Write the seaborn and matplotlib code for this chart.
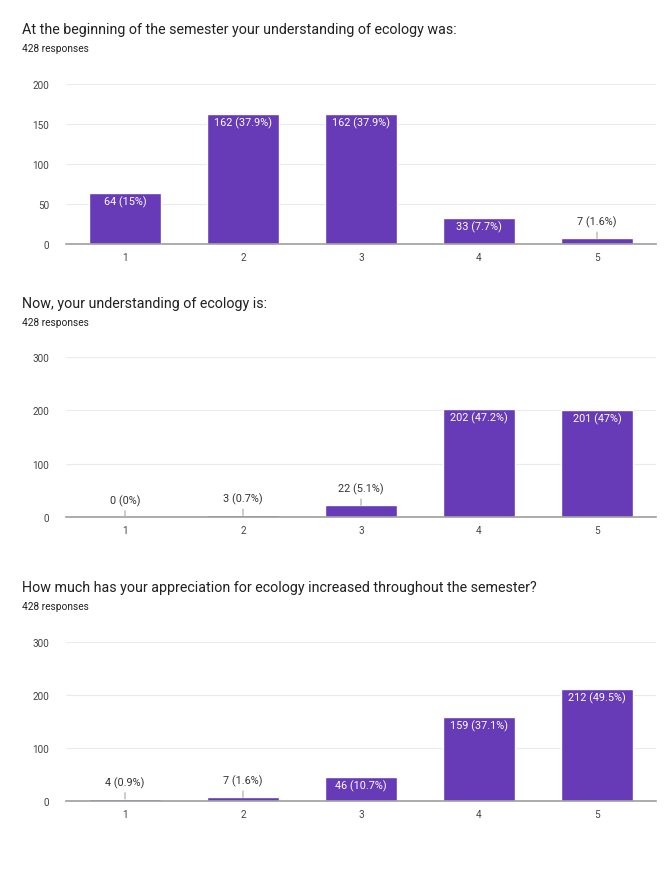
import matplotlib
matplotlib.use("Agg")
import matplotlib.pyplot as plt
import seaborn as sns
import pandas as pd

sns.set_theme(style="white")
plt.rcParams['font.family'] = ['Roboto', 'DejaVu Sans']

categories = ["1", "2", "3", "4", "5"]
titles = [
    "At the beginning of the semester your understanding of ecology was:",
    "Now, your understanding of ecology is:",
    "How much has your appreciation for ecology increased throughout the semester?",
]
subtitle = "428 responses"
values_begin = [64, 162, 162, 33, 7]
pct_begin = ["15%", "37.9%", "37.9%", "7.7%", "1.6%"]
values_now = [0, 3, 22, 202, 201]
pct_now = ["0%", "0.7%", "5.1%", "47.2%", "47%"]
values_appr = [4, 7, 46, 159, 212]
pct_appr = ["0.9%", "1.6%", "10.7%", "37.1%", "49.5%"]
yticks_begin = [0, 50, 100, 150, 200]
yticks_now = [0, 100, 200, 300]
yticks_appr = [0, 100, 200, 300]

panels = [
    (titles[0], values_begin, pct_begin, yticks_begin),
    (titles[1], values_now, pct_now, yticks_now),
    (titles[2], values_appr, pct_appr, yticks_appr),
]

purple = "#673AB7"
W, H = 672, 870
fig = plt.figure(figsize=(W / 100, H / 100), dpi=100)
fig.patch.set_facecolor("white")

# (axes top px, axes bottom px, title y px)
layout = [(85, 245, 30), (358, 518, 304), (643, 802, 588)]
left_px, right_px = 66, 656

for (title, vals, pcts, yt), (top, bot, ty) in zip(panels, layout):
    ax = fig.add_axes([left_px / W, 1 - bot / H, (right_px - left_px) / W, (bot - top) / H])
    df = pd.DataFrame({"cat": categories, "val": vals})
    sns.barplot(data=df, x="cat", y="val", color=purple, width=0.61, ax=ax,
                saturation=1, zorder=3)
    ax.set_xlim(-0.5, 4.5)
    ax.set_ylim(0, yt[-1])
    ax.set_yticks(yt)
    ax.set_yticklabels([str(v) for v in yt])
    ax.set_xlabel("")
    ax.set_ylabel("")
    ax.grid(axis="y", color="#ebebeb", linewidth=0.8, zorder=0)
    for s in ["top", "right", "left"]:
        ax.spines[s].set_visible(False)
    ax.spines["bottom"].set_color("#9e9e9e")
    ax.spines["bottom"].set_linewidth(1.2)
    ax.spines["bottom"].set_zorder(4)
    ax.tick_params(axis="both", length=0, labelsize=7.2, colors="#444444")
    ax.tick_params(axis="y", pad=12)
    ax.tick_params(axis="x", pad=6)
    ymax = yt[-1]
    for i, (v, p) in enumerate(zip(vals, pcts)):
        label = f"{v} ({p})"
        if v / ymax > 0.1:
            ax.annotate(label, xy=(i, v), xytext=(0, -6), textcoords="offset points",
                        ha="center", va="center", color="white", fontsize=7.8, zorder=5)
        else:
            ax.annotate(label, xy=(i, v), xytext=(0, 12), textcoords="offset points",
                        ha="center", va="center", color="#333333", fontsize=7.8, zorder=5,
                        arrowprops=dict(arrowstyle="-", color="#b0b0b0", lw=0.9,
                                        relpos=(0.5, 0.0), shrinkA=1, shrinkB=0))
    fig.text(22 / W, 1 - ty / H, title, fontsize=10.3, color="#212121", va="center", ha="left")
    fig.text(22 / W, 1 - (ty + 19) / H, subtitle, fontsize=7.3, color="#212121", va="center", ha="left")

fig.savefig("out.png", dpi=100, facecolor="white")
